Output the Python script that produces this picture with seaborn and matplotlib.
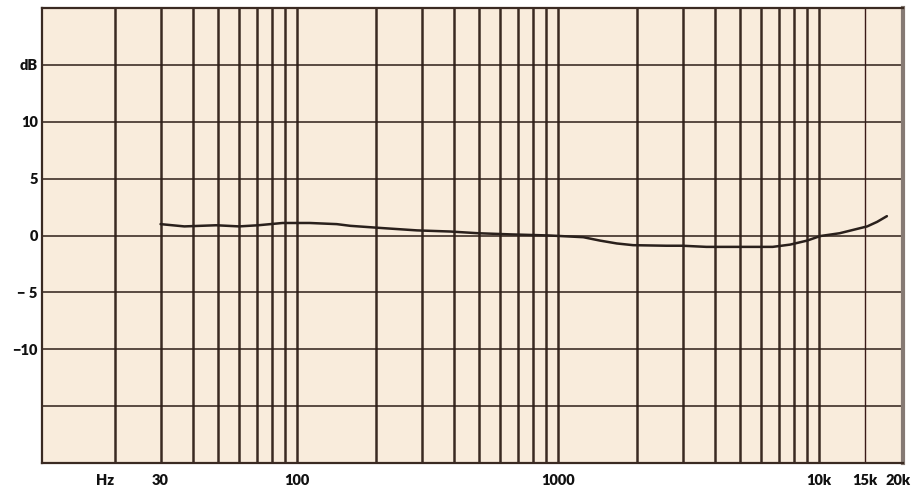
import matplotlib
matplotlib.use("Agg")
import matplotlib.pyplot as plt
import seaborn as sns
import pandas as pd

# frequency response (Hz, dB)
freq = [30, 37, 49, 60, 71, 88, 112, 142, 160, 213, 288, 386, 494, 655, 930,
        1250, 1450, 1680, 1940, 2600, 3000, 3700, 5000, 6650, 7750, 9000,
        10100, 12000, 15300, 16700, 18200]
level = [1.0, 0.8, 0.9, 0.8, 0.9, 1.1, 1.1, 1.0, 0.85, 0.65, 0.45, 0.35, 0.2,
         0.1, 0.0, -0.15, -0.45, -0.7, -0.85, -0.9, -0.9, -1.0, -1.0, -1.0, -0.8,
         -0.45, -0.05, 0.2, 0.8, 1.2, 1.7]

# grid of the chart paper
grid_freq = [20, 30, 40, 50, 60, 70, 80, 90, 100, 200, 300, 400, 500, 600, 700,
             800, 900, 1000, 2000, 3000, 4000, 5000, 6000, 7000, 8000, 9000, 10000]
grid_db = [-15, -10, -5, 0, 5, 10, 15]

x_ticks = [18.4, 30, 100, 1000, 10000, 15000, 20000]
x_labels = ["Hz", "30", "100", "1000", "10k", "15k", "20k"]
y_ticks = [15, 10, 5, 0, -5, -10]
y_labels = ["dB", "10", "5", "0", "\u2212 5", "\u221210"]

df = pd.DataFrame({"freq": freq, "level": level})

sns.set_theme(style="white")
plt.rcParams["font.family"] = ["Lato", "DejaVu Sans"]

paper = "#f9ecdc"
ink = "#3a2a22"

fig = plt.figure(figsize=(9.18, 4.88), dpi=100)
ax = fig.add_axes([42 / 918, 25 / 488, 861 / 918, 455 / 488])
ax.set_facecolor(paper)

ax.set_xscale("log")
ax.set_xlim(10.54, 20980)
ax.set_ylim(-20, 20)

ax.vlines(grid_freq, -20, 20, color=ink, lw=1.8, zorder=1)
ax.vlines([15000], -20, 20, color="#3a1a18", lw=1.0, zorder=1)
ax.hlines(grid_db, 10.54, 20980, color="#2e1e18", lw=1.1, zorder=1)

sns.lineplot(data=df, x="freq", y="level", ax=ax, color="#2a201c", lw=1.8,
             zorder=3)

ax.set_xticks(x_ticks)
ax.set_xticklabels(x_labels)
ax.xaxis.set_minor_locator(matplotlib.ticker.NullLocator())
ax.set_yticks(y_ticks)
ax.set_yticklabels(y_labels)
ax.tick_params(axis="both", length=0, labelsize=10.5, colors="#111111")
ax.tick_params(axis="x", pad=8)
ax.tick_params(axis="y", pad=3)
for lab in ax.get_xticklabels() + ax.get_yticklabels():
    lab.set_fontweight("heavy")
ax.set_xlabel("")
ax.set_ylabel("")

for side in ["left", "top", "bottom"]:
    ax.spines[side].set_color(ink)
    ax.spines[side].set_linewidth(1.6)
ax.spines["right"].set_color("#867a74")
ax.spines["right"].set_linewidth(3)

fig.savefig("out.png", dpi=100, facecolor="white")
